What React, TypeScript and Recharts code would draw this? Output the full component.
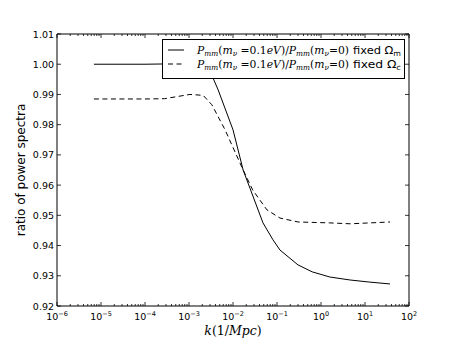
import React from 'react';
import { LineChart, Line, XAxis, YAxis, Legend } from 'recharts';

// wavenumbers k (1/Mpc) and power-spectrum ratios
const kFixedOmegaM = [6.9e-6, 1e-4, 1e-3, 2.5e-3, 3.5e-3, 4.6e-3, 1e-2, 0.017, 0.048, 0.081, 0.117, 0.3, 0.63, 1.58, 4.6, 12.9, 37];
const ratioFixedOmegaM = [1.0, 1.0, 1.0002, 1.0, 0.9955, 0.9915, 0.9783, 0.965, 0.9475, 0.9419, 0.9385, 0.9336, 0.9313, 0.9296, 0.9286, 0.9279, 0.9273];

const kFixedOmegaC = [6.9e-6, 1e-4, 2.8e-4, 1.05e-3, 2.1e-3, 3.3e-3, 6.6e-3, 0.017, 0.028, 0.059, 0.117, 0.3, 1.58, 4.6, 37];
const ratioFixedOmegaC = [0.9885, 0.9885, 0.9886, 0.99, 0.9897, 0.9866, 0.9783, 0.965, 0.9584, 0.9518, 0.9491, 0.9478, 0.9475, 0.9472, 0.9478];

const xMajorExponents = [-6, -5, -4, -3, -2, -1, 0, 1, 2];
const xMinorMultipliers = [2, 3, 4, 5, 6, 7, 8, 9];
const yTicks = [0.92, 0.93, 0.94, 0.95, 0.96, 0.97, 0.98, 0.99, 1.0, 1.01];

// legend entries in display order: series name and the subscript of Omega
const legendNames = ['fixed Omega_m', 'fixed Omega_c'];
const legendSubs = ['m', 'c'];

const seriesM = kFixedOmegaM.map((k, i) => ({ k, r: ratioFixedOmegaM[i] }));
const seriesC = kFixedOmegaC.map((k, i) => ({ k, r: ratioFixedOmegaC[i] }));

const xTicks: number[] = [];
xMajorExponents.forEach((e) => {
  xTicks.push(Math.pow(10, e));
  if (e < 2) xMinorMultipliers.forEach((m) => xTicks.push(m * Math.pow(10, e)));
});

const isMajor = (v: number) => {
  const l = Math.log10(v);
  return Math.abs(l - Math.round(l)) < 1e-6;
};

const AXIS = '#000';
const SANS = 'DejaVu Sans, sans-serif';
const SERIF = 'DejaVu Serif, serif';

const BottomTick = (props: any) => {
  const { x, y, payload } = props;
  const v = payload.value;
  const major = isMajor(v);
  const e = Math.round(Math.log10(v));
  return (
    <g>
      <line x1={x} y1={y} x2={x} y2={y - (major ? 4 : 2)} stroke={AXIS} strokeWidth={0.8} />
      {major && (
        <text x={x} y={y + 14} textAnchor="middle" fontFamily={SANS} fontSize={9.5} fill="#000">
          10<tspan dy={-4.5} fontSize={6.5}>{e < 0 ? '\u2212' + Math.abs(e) : String(e)}</tspan>
        </text>
      )}
    </g>
  );
};

const TopTick = (props: any) => {
  const { x, y, payload } = props;
  const major = isMajor(payload.value);
  return <line x1={x} y1={y} x2={x} y2={y + (major ? 4 : 2)} stroke={AXIS} strokeWidth={0.8} />;
};

const LeftTick = (props: any) => {
  const { x, y, payload } = props;
  return (
    <g>
      <line x1={x} y1={y} x2={x + 4} y2={y} stroke={AXIS} strokeWidth={0.8} />
      <text x={x - 3} y={y + 3.5} textAnchor="end" fontFamily={SANS} fontSize={9.5} fill="#000">
        {Number(payload.value).toFixed(2)}
      </text>
    </g>
  );
};

const RightTick = (props: any) => {
  const { x, y } = props;
  return <line x1={x} y1={y} x2={x - 4} y2={y} stroke={AXIS} strokeWidth={0.8} />;
};

const XLabel = (props: any) => {
  const vb = props.viewBox || {};
  const cx = vb.x + vb.width / 2;
  return (
    <text x={cx} y={335} textAnchor="middle" fontFamily={SERIF} fontSize={12.5} fill="#000">
      <tspan fontStyle="italic">k</tspan>
      <tspan>(1/</tspan>
      <tspan fontStyle="italic">Mpc</tspan>
      <tspan>)</tspan>
    </text>
  );
};

const YLabel = (props: any) => {
  const vb = props.viewBox || {};
  const cy = vb.y + vb.height / 2;
  return (
    <text x={25} y={cy} transform={`rotate(-90, 25, ${cy})`} textAnchor="middle" fontFamily={SANS} fontSize={12} fill="#000">
      ratio of power spectra
    </text>
  );
};

const MathLabel = ({ x, y, sub }: { x: number; y: number; sub: string }) => (
  <g>
    <text x={x} y={y} fontSize={11} fill="#000" fontFamily={SERIF} textLength={152} lengthAdjust="spacingAndGlyphs">
      <tspan fontStyle="italic">P</tspan>
      <tspan fontStyle="italic" fontSize={7.5} dy={2}>mm</tspan>
      <tspan dy={-2}>(</tspan>
      <tspan fontStyle="italic">m</tspan>
      <tspan fontStyle="italic" fontSize={7.5} dy={2}>ν</tspan>
      <tspan dy={-2}>{' =0.1'}</tspan>
      <tspan fontStyle="italic">eV</tspan>
      <tspan>)/</tspan>
      <tspan fontStyle="italic">P</tspan>
      <tspan fontStyle="italic" fontSize={7.5} dy={2}>mm</tspan>
      <tspan dy={-2}>(</tspan>
      <tspan fontStyle="italic">m</tspan>
      <tspan fontStyle="italic" fontSize={7.5} dy={2}>ν</tspan>
      <tspan dy={-2}>=0)</tspan>
    </text>
    <text x={x + 156} y={y} fontSize={11} fill="#000" fontFamily={SANS} textLength={48} lengthAdjust="spacingAndGlyphs">
      <tspan>{'fixed Ω'}</tspan>
      <tspan fontSize={7.5} dy={2}>{sub}</tspan>
    </text>
  </g>
);

const LegendContent = (props: any) => {
  const payload = props.payload || [];
  return (
    <svg width={243} height={40} style={{ display: 'block' }}>
      <rect x={0.5} y={0.5} width={242} height={39} fill="#fff" stroke="#000" strokeWidth={1} />
      {legendNames.map((name, i) => {
        const entry = payload.find((p: any) => p.value === name) || {};
        const cy = 11 + i * 14;
        const dash = entry.payload && entry.payload.strokeDasharray;
        return (
          <g key={name}>
            <line x1={6} x2={22} y1={cy} y2={cy} stroke="#000" strokeWidth={1} strokeDasharray={dash} />
            <MathLabel x={35} y={cy + 3.5} sub={legendSubs[i]} />
          </g>
        );
      })}
    </svg>
  );
};

export default function App() {
  return (
    <div style={{ position: 'absolute', left: 0, top: 0, background: '#fff' }}>
      <LineChart width={455} height={341} margin={{ top: 0, right: 0, bottom: 0, left: 0 }}>
        <XAxis
          xAxisId="bottom"
          dataKey="k"
          type="number"
          scale="log"
          domain={[1e-6, 100]}
          allowDataOverflow
          ticks={xTicks}
          interval={0}
          tickSize={0}
          tickMargin={0}
          tickLine={false}
          tick={<BottomTick />}
          axisLine={{ stroke: AXIS, strokeWidth: 1 }}
          height={35}
          orientation="bottom"
          label={<XLabel />}
        />
        <XAxis
          xAxisId="top"
          dataKey="k"
          type="number"
          scale="log"
          domain={[1e-6, 100]}
          allowDataOverflow
          ticks={xTicks}
          interval={0}
          tickSize={0}
          tickMargin={0}
          tickLine={false}
          tick={<TopTick />}
          axisLine={{ stroke: AXIS, strokeWidth: 1 }}
          height={34}
          orientation="top"
        />
        <YAxis
          yAxisId="left"
          type="number"
          domain={[0.92, 1.01]}
          allowDataOverflow
          ticks={yTicks}
          interval={0}
          tickSize={0}
          tickMargin={0}
          tickLine={false}
          tick={<LeftTick />}
          axisLine={{ stroke: AXIS, strokeWidth: 1 }}
          width={57}
          orientation="left"
          label={<YLabel />}
        />
        <YAxis
          yAxisId="right"
          type="number"
          domain={[0.92, 1.01]}
          allowDataOverflow
          ticks={yTicks}
          interval={0}
          tickSize={0}
          tickMargin={0}
          tickLine={false}
          tick={<RightTick />}
          axisLine={{ stroke: AXIS, strokeWidth: 1 }}
          width={46}
          orientation="right"
        />
        <Line
          xAxisId="bottom"
          yAxisId="left"
          data={seriesM}
          dataKey="r"
          name={legendNames[0]}
          stroke="#000"
          strokeWidth={1}
          dot={false}
          isAnimationActive={false}
        />
        <Line
          xAxisId="top"
          yAxisId="right"
          data={seriesC}
          dataKey="r"
          name={legendNames[1]}
          stroke="#000"
          strokeWidth={1}
          strokeDasharray="5 3.5"
          dot={false}
          isAnimationActive={false}
        />
        <Legend
          layout="horizontal"
          verticalAlign="middle"
          align="center"
          content={<LegendContent />}
          wrapperStyle={{ left: 162, top: 39, width: 243, height: 40, lineHeight: 0 }}
        />
      </LineChart>
    </div>
  );
}
